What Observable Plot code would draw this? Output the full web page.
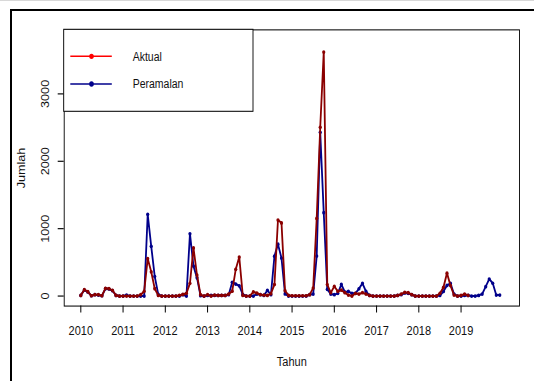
<!DOCTYPE html>
<html><head><meta charset="utf-8">
<script src="https://cdn.jsdelivr.net/npm/d3@7"></script>
<script src="https://cdn.jsdelivr.net/npm/@observablehq/plot@0.6"></script>
<style>
html,body{margin:0;padding:0;background:#fff;}
#wrap{position:relative;width:534px;height:381px;overflow:hidden;background:#fff;}
#topline{position:absolute;left:0;top:0;width:534px;height:1px;background:#d8d8d8;}
#frame{position:absolute;left:10px;top:9px;width:700px;height:600px;border-left:2px solid #000;border-top:2px solid #000;}
#chart{position:absolute;left:0;top:0;}
#chart svg{transform:scale(1,1.15);transform-origin:0 0;display:block;overflow:visible;}
</style></head><body>
<div id="wrap"><div id="topline"></div><div id="frame"></div><div id="chart"></div></div>
<script>
// ---- data (monthly, starting Jan 2010) ----
const startYear = 2010;
const aktual = [
  10, 95, 65, 5, 20, 20, 5, 115, 110, 85, 10, 0,          // 2010
  0, 0, 0, 0, 0, 20, 70, 555, 360, 110, 10, 0,            // 2011
  0, 0, 0, 0, 10, 25, 40, 190, 715, 312, 20, 0,           // 2012
  20, 0, 15, 10, 10, 10, 30, 72, 396, 580, 10, 0,         // 2013
  0, 62, 45, 20, 15, 10, 35, 172, 1129, 1085, 80, 10,     // 2014
  5, 5, 5, 5, 5, 20, 120, 1152, 2505, 3620, 170, 50,      // 2015
  145, 70, 89, 50, 15, 0, 40, 30, 50, 30, 10, 0,          // 2016
  0, 0, 0, 0, 0, 0, 10, 30, 55, 50, 20, 0,                // 2017
  0, 0, 0, 0, 0, 0, 40, 129, 340, 155, 15, 0,             // 2018
  10, 30, 10                                              // 2019
];
const peramalan = [
  10, 90, 60, 5, 20, 15, 5, 110, 105, 80, 10, 0,          // 2010
  0, 15, 0, 0, 0, 0, 0, 1213, 738, 290, 25, 0,            // 2011
  0, 0, 0, 0, 0, 20, 0, 925, 445, 270, 5, 0,              // 2012
  10, 10, 10, 10, 10, 10, 20, 205, 178, 152, 25, 0,       // 2013
  0, 0, 30, 20, 10, 85, 20, 592, 770, 564, 32, 0,         // 2014
  0, 0, 0, 0, 0, 20, 30, 594, 2430, 1238, 100, 30,        // 2015
  20, 40, 173, 59, 69, 40, 40, 109, 188, 69, 10, 0,       // 2016
  0, 0, 0, 0, 0, 0, 10, 20, 45, 40, 20, 0,                // 2017
  0, 0, 0, 0, 0, 0, 10, 69, 158, 188, 30, 0,              // 2018
  0, 10, 10, 0, 0, 10, 30, 140, 252, 190, 15, 15          // 2019
];
const xTicks = [2010, 2011, 2012, 2013, 2014, 2015, 2016, 2017, 2018, 2019];
const yTicks = [0, 1000, 2000, 3000];
const seriesNames = ["Aktual", "Peramalan"];
const lineColors = ["#8B0000", "#00008B"];
const legendColors = ["#FF0000", "#00008B"];
const xTitle = "Tahun";
const yTitle = "Jumlah";

// ---- layout ----
const S = 1.15;             // vertical stretch of the reference image
const W = 534, H = 381, H0 = H / S;
const boxL = 63.7, boxR = 519, boxT = 29.3 / S, boxB = 305.5 / S;

const toRows = (arr, name) => arr.map((v, i) => ({t: startYear + i / 12, v, s: name}));
const dA = toRows(aktual, seriesNames[0]);
const dP = toRows(peramalan, seriesNames[1]);

const chart = Plot.plot({
  width: W, height: H0,
  marginLeft: boxL, marginRight: W - boxR, marginTop: boxT, marginBottom: H0 - boxB,
  x: {domain: [2009.607, 2020.383]},
  y: {domain: [-148.5, 3950]},
  style: {fontFamily: "'Liberation Sans', Arial, sans-serif", fontSize: "11px", color: "#111", background: "transparent"},
  marks: [
    Plot.line(dP, {x: "t", y: "v", stroke: lineColors[1], strokeWidth: 1.8}),
    Plot.dot(dP, {x: "t", y: "v", r: 1.6, fill: lineColors[1]}),
    Plot.line(dA, {x: "t", y: "v", stroke: lineColors[0], strokeWidth: 1.8}),
    Plot.dot(dA, {x: "t", y: "v", r: 1.6, fill: lineColors[0]}),
    Plot.frame({stroke: "#000", strokeWidth: 0.9}),
    Plot.axisX({ticks: xTicks, tickSize: 6.1, tickPadding: 11.3, tickFormat: d => String(d),
      label: xTitle, labelAnchor: "center", labelOffset: 51.9, labelArrow: "none", stroke: "#000"}),
    Plot.axisY({ticks: yTicks, tickSize: 6, tickPadding: 9.5, tickRotate: -90, tickFormat: d => String(d),
      label: yTitle, labelAnchor: "center", labelOffset: 47.2, labelArrow: "none", stroke: "#000"})
  ]
});
document.getElementById("chart").appendChild(chart);

// ---- legend (R-style box, top-left of plot region) ----
const svg = d3.select(chart);
const lg = svg.append("g")
  .attr("font-family", "'Liberation Sans', Arial, sans-serif")
  .attr("font-size", 10.5)
  .attr("text-anchor", "start");
const lgTop = boxT, lgBottom = 111.3 / S;
lg.append("rect").attr("x", boxL).attr("y", lgTop).attr("width", 253 - boxL).attr("height", lgBottom - lgTop)
  .attr("fill", "#fff").attr("stroke", "#000").attr("stroke-width", 0.9);
const rowsY = [56.3 / S, 84 / S];
seriesNames.forEach((name, i) => {
  lg.append("line").attr("x1", 70.3).attr("x2", 111.8).attr("y1", rowsY[i]).attr("y2", rowsY[i])
    .attr("stroke", legendColors[i]).attr("stroke-width", 1.2);
  lg.append("circle").attr("cx", 91.5).attr("cy", rowsY[i]).attr("r", 2.3).attr("fill", legendColors[i]);
  lg.append("text").attr("x", 132.7).attr("y", rowsY[i]).attr("dy", "0.35em")
    .attr("text-anchor", "start").attr("fill", "#111").text(name);
});
</script>
</body></html>
